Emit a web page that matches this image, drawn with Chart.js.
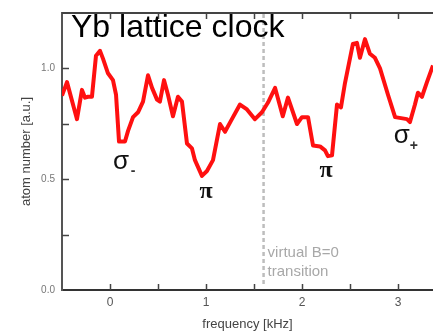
<!DOCTYPE html>
<html>
<head>
<meta charset="utf-8">
<script src="https://cdn.jsdelivr.net/npm/chart.js@4/dist/chart.umd.min.js"></script>
<style>
  html, body { margin: 0; padding: 0; background: #fff; }
  #wrap { width: 433px; height: 333px; }
</style>
</head>
<body>
<div id="wrap"><canvas id="clockChart" width="433" height="333"></canvas></div>
<script>
// frequency detuning [kHz]
const freqs = [
  -0.5, -0.448, -0.344, -0.292, -0.26, -0.229, -0.188, -0.146, -0.104, -0.073,
  -0.021, 0.031, 0.063, 0.094, 0.156, 0.188, 0.24, 0.292, 0.344, 0.396,
  0.438, 0.49, 0.52, 0.563, 0.604, 0.656, 0.708, 0.75, 0.802, 0.854,
  0.885, 0.958, 1.01, 1.073, 1.146, 1.198, 1.27, 1.354, 1.427, 1.51,
  1.583, 1.646, 1.72, 1.8, 1.854, 1.948, 2.0, 2.063, 2.115, 2.188,
  2.24, 2.27, 2.313, 2.365, 2.406, 2.448, 2.53, 2.573, 2.604, 2.656,
  2.708, 2.76, 2.813, 2.896, 2.97, 3.094, 3.125, 3.177, 3.208, 3.25,
  3.302, 3.365
];
// atom number [a.u.]
const atoms = [
  0.877, 0.938, 0.771, 0.903, 0.868, 0.872, 0.872, 1.057, 1.079, 1.044,
  0.978, 0.947, 0.881, 0.67, 0.67, 0.718, 0.78, 0.802, 0.85, 0.969,
  0.912, 0.859, 0.85, 0.947, 0.881, 0.784, 0.872, 0.85, 0.661, 0.639,
  0.586, 0.515, 0.537, 0.586, 0.749, 0.714, 0.771, 0.837, 0.815, 0.771,
  0.802, 0.846, 0.912, 0.784, 0.868, 0.749, 0.78, 0.78, 0.652, 0.648,
  0.63, 0.604, 0.608, 0.837, 0.824, 0.934, 1.11, 1.115, 1.048, 1.132,
  1.066, 1.048, 1.0, 0.881, 0.78, 0.771, 0.758, 0.837, 0.89, 0.872,
  0.938, 1.013
];
const xTickLabels = ["0", "1", "2", "3"];
const yTickLabels = ["0.0", "0.5", "1.0"];

const xRange = [-0.5, 3.365];
const yRange = [0, 1.25];
const transitionFreq = 1.6;

// peak markers: [label, subscript, x, y]
const peakLabels = [
  ["σ", "-", 0.115, 0.58],
  ["π", "", 1.0, 0.445],
  ["π", "", 2.25, 0.537],
  ["σ", "+", 3.04, 0.696],
];

const decorPlugin = {
  id: "decor",
  beforeDatasetsDraw(chart) {
    const { ctx, chartArea: a, scales } = chart;
    const x = scales.x;
    ctx.save();
    // dashed "virtual B=0" line
    const xp = x.getPixelForValue(transitionFreq);
    ctx.strokeStyle = "#bdbdbd";
    ctx.lineWidth = 2.5;
    ctx.setLineDash([4, 3]);
    ctx.beginPath();
    ctx.moveTo(xp, a.top + 1);
    ctx.lineTo(xp, a.bottom - 5);
    ctx.stroke();
    ctx.setLineDash([]);
    ctx.fillStyle = "#a8a8a8";
    ctx.font = "15px 'Liberation Sans', Arial, sans-serif";
    ctx.textAlign = "left";
    ctx.textBaseline = "middle";
    ctx.fillText("virtual B=0", xp + 4, 253);
    ctx.fillText("transition", xp + 4, 272);
    ctx.restore();
  },
  afterDraw(chart) {
    const { ctx, chartArea: a, scales } = chart;
    const x = scales.x;
    const y = scales.y;
    ctx.save();
    // top frame line
    ctx.strokeStyle = "#444";
    ctx.lineWidth = 2;
    ctx.beginPath();
    ctx.moveTo(a.left, a.top);
    ctx.lineTo(a.right, a.top);
    ctx.stroke();
    // inward ticks
    ctx.lineWidth = 1.5;
    for (let v = 0; v <= 3.0001; v += 0.5) {
      const px = Math.round(x.getPixelForValue(v)) + 0.5;
      ctx.beginPath();
      ctx.moveTo(px, a.bottom);
      ctx.lineTo(px, a.bottom - 6);
      ctx.moveTo(px, a.top);
      ctx.lineTo(px, a.top + 6);
      ctx.stroke();
    }
    for (let v = 0.25; v <= 1.0001; v += 0.25) {
      const py = Math.round(y.getPixelForValue(v)) + 0.5;
      ctx.beginPath();
      ctx.moveTo(a.left, py);
      ctx.lineTo(a.left + 7, py);
      ctx.stroke();
    }
    // title
    ctx.fillStyle = "#000";
    ctx.font = "32px 'Liberation Sans', Arial, sans-serif";
    ctx.textAlign = "left";
    ctx.textBaseline = "alphabetic";
    ctx.fillText("Yb lattice clock", 71, 37);
    // peak labels
    peakLabels.forEach(([sym, sub, fx, fy]) => {
      const px = x.getPixelForValue(fx);
      const py = y.getPixelForValue(fy);
      ctx.fillStyle = "#111";
      ctx.textAlign = "center";
      ctx.textBaseline = "middle";
      ctx.font = sym === "π"
        ? "bold 24px 'Liberation Serif', serif"
        : "26px 'Liberation Sans', Arial, sans-serif";
      ctx.fillText(sym, px, py);
      if (sub) {
        ctx.font = "bold 14px 'Liberation Sans', Arial, sans-serif";
        ctx.fillStyle = "#333";
        ctx.fillText(sub, px + 12, py + 10);
      }
    });
    ctx.restore();
  },
};

new Chart(document.getElementById("clockChart"), {
  type: "line",
  data: {
    datasets: [
      {
        data: freqs.map((f, i) => ({ x: f, y: atoms[i] })),
        borderColor: "#ff1010",
        borderWidth: 4,
        pointRadius: 0,
        tension: 0,
        borderJoinStyle: "round",
        fill: false,
      },
    ],
  },
  options: {
    responsive: false,
    animation: false,
    layout: { padding: { top: 7, right: 0, left: 0, bottom: 0 } },
    plugins: {
      legend: { display: false },
      tooltip: { enabled: false },
    },
    scales: {
      x: {
        type: "linear",
        min: xRange[0],
        max: xRange[1],
        afterFit: (scale) => { scale.height = 43; },
        grid: { display: false, drawTicks: false },
        border: { display: true, color: "#333", width: 2 },
        ticks: {
          stepSize: 1,
          includeBounds: false,
          padding: 5,
          color: "#555",
          font: { size: 12, family: "'Liberation Sans', Arial, sans-serif" },
          callback: (v) => {
            const i = Math.round(v);
            return Math.abs(v - i) < 1e-6 && i >= 0 && i < xTickLabels.length ? xTickLabels[i] : "";
          },
        },
        title: {
          display: true,
          text: "frequency [kHz]",
          color: "#444",
          font: { size: 13, family: "'Liberation Sans', Arial, sans-serif" },
          padding: { top: 0, bottom: 1 },
        },
      },
      y: {
        type: "linear",
        min: yRange[0],
        max: yRange[1],
        afterFit: (scale) => { scale.width = 62; },
        grid: { display: false, drawTicks: false },
        border: { display: true, color: "#555", width: 2 },
        ticks: {
          stepSize: 0.5,
          padding: 7,
          color: "#777",
          font: { size: 10, family: "'Liberation Sans', Arial, sans-serif" },
          callback: (v) => {
            const i = Math.round(v * 2);
            return Math.abs(v * 2 - i) < 1e-6 && i < yTickLabels.length ? yTickLabels[i] : "";
          },
        },
        title: {
          display: true,
          text: "atom number [a.u.]",
          color: "#444",
          font: { size: 13, family: "'Liberation Sans', Arial, sans-serif" },
          padding: { top: 19, bottom: 0 },
        },
      },
    },
  },
  plugins: [decorPlugin],
});
</script>
</body>
</html>
